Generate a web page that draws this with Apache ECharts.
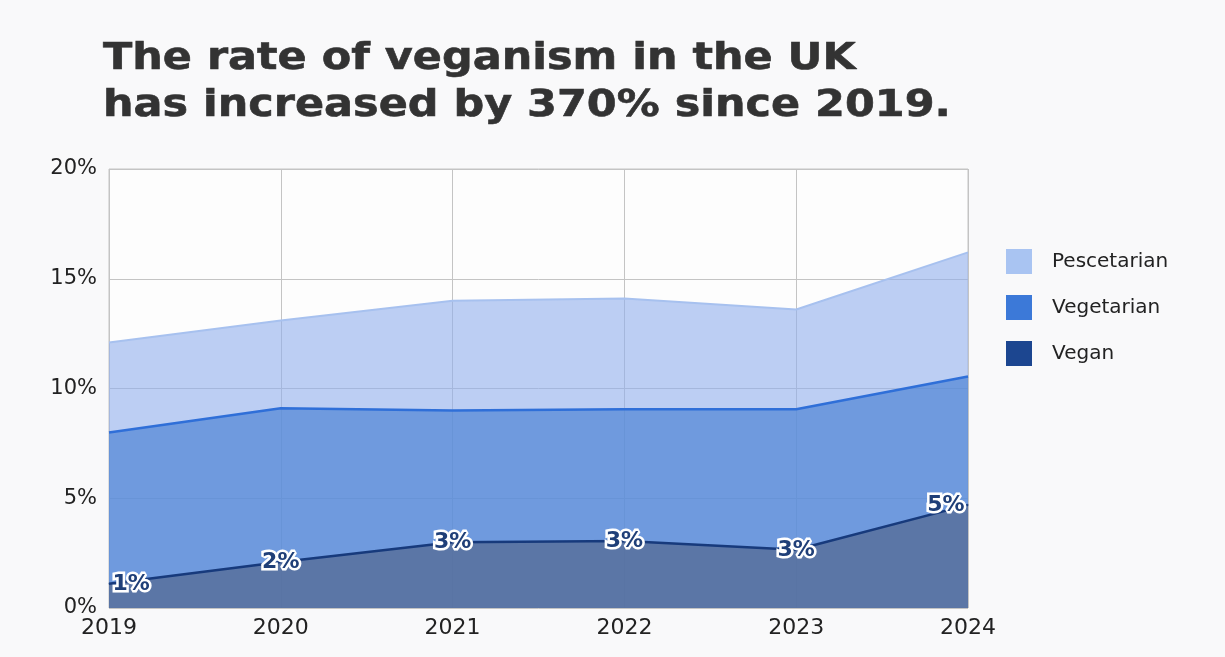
<!DOCTYPE html>
<html>
<head>
<meta charset="utf-8">
<title>Veganism in the UK</title>
<script src="https://cdn.jsdelivr.net/npm/echarts@6/dist/echarts.min.js"></script>
<style>
  html, body { margin: 0; padding: 0; background: #f9f9fa; }
  #chart { width: 1225px; height: 657px; }
</style>
</head>
<body>
<div id="chart"></div>
<script>
// Share of the UK population following each diet (percent, cumulative bands)
const years = ['2019', '2020', '2021', '2022', '2023', '2024'];
const pescetarian = [12.1, 13.1, 14.0, 14.1, 13.6, 16.2];
const vegetarian = [8.0, 9.1, 9.0, 9.05, 9.05, 10.55];
const vegan = [1.1, 2.1, 3.0, 3.05, 2.65, 4.7];
const yTicks = [0, 5, 10, 15, 20];
const headline = 'The rate of veganism in the UK\nhas increased by 370% since 2019.';

const FONT = '"DejaVu Sans", Verdana, sans-serif';

// Vegan labels: first point to the right, last to the left, others centred
const veganData = vegan.map((v, i) => {
  let position = 'inside';
  if (i === 0) position = 'right';
  if (i === vegan.length - 1) position = 'left';
  return { value: v, label: { position: position, distance: 3 } };
});

const chart = echarts.init(document.getElementById('chart'));
chart.setOption({
  backgroundColor: '#f9f9fa',
  animation: false,
  // Headline drawn as a wide bold text block
  graphic: [{
    type: 'text',
    x: 103,
    y: 36,
    scaleX: 1.13,
    style: {
      text: headline,
      font: 'bold 38px ' + FONT,
      lineHeight: 47,
      fill: '#333333',
      stroke: '#333333',
      lineWidth: 0.6,
      textVerticalAlign: 'top'
    }
  }],
  legend: {
    orient: 'vertical',
    left: 1006,
    top: 249,
    padding: 0,
    itemWidth: 26,
    itemHeight: 25,
    itemGap: 21,
    icon: 'rect',
    textStyle: { fontFamily: FONT, fontSize: 20, color: '#222', padding: [0, 0, 0, 15] },
    data: [
      { name: 'Pescetarian', itemStyle: { color: '#a9c4f2' } },
      { name: 'Vegetarian', itemStyle: { color: '#3c79d8' } },
      { name: 'Vegan', itemStyle: { color: '#1c4690' } }
    ]
  },
  grid: {
    left: 109,
    right: 257,
    top: 169,
    bottom: 49,
    show: true,
    backgroundColor: '#fdfdfd',
    borderColor: '#c4c4c4',
    borderWidth: 1
  },
  xAxis: {
    type: 'category',
    data: years,
    boundaryGap: false,
    axisLine: { show: false },
    axisTick: { show: false },
    axisLabel: { fontFamily: FONT, fontSize: 22, color: '#222', margin: 9 },
    splitLine: { show: true, lineStyle: { color: '#c4c4c4', width: 1 } }
  },
  yAxis: {
    type: 'value',
    min: yTicks[0],
    max: yTicks[yTicks.length - 1],
    interval: 5,
    axisLine: { show: false },
    axisTick: { show: false },
    axisLabel: {
      fontFamily: FONT,
      fontSize: 21,
      color: '#222',
      margin: 12,
      formatter: v => v + '%'
    },
    splitLine: { show: true, lineStyle: { color: '#c4c4c4', width: 1 } }
  },
  series: [
    {
      name: 'Pescetarian',
      type: 'line',
      data: pescetarian,
      symbol: 'none',
      lineStyle: { color: '#a7c1ef', width: 2 },
      itemStyle: { color: '#a9c4f2' },
      areaStyle: { color: 'rgb(145,175,237)', opacity: 0.6 },
      z: 1
    },
    {
      name: 'Vegetarian',
      type: 'line',
      data: vegetarian,
      symbol: 'none',
      lineStyle: { color: '#2f6fd8', width: 2.5 },
      itemStyle: { color: '#3c79d8' },
      areaStyle: { color: 'rgb(79,132,212)', opacity: 0.7 },
      z: 2
    },
    {
      name: 'Vegan',
      type: 'line',
      data: veganData,
      symbol: 'circle',
      symbolSize: 1,
      showSymbol: true,
      lineStyle: { color: '#173a7c', width: 2.5 },
      itemStyle: { color: '#1c4690' },
      areaStyle: { color: 'rgb(83,103,142)', opacity: 0.7 },
      label: {
        show: true,
        fontFamily: FONT,
        fontSize: 22,
        fontWeight: 'bold',
        color: '#1f3f78',
        textBorderColor: '#ffffff',
        textBorderWidth: 5,
        formatter: p => Math.round(p.value) + '%'
      },
      z: 3
    }
  ]
});
</script>
</body>
</html>
